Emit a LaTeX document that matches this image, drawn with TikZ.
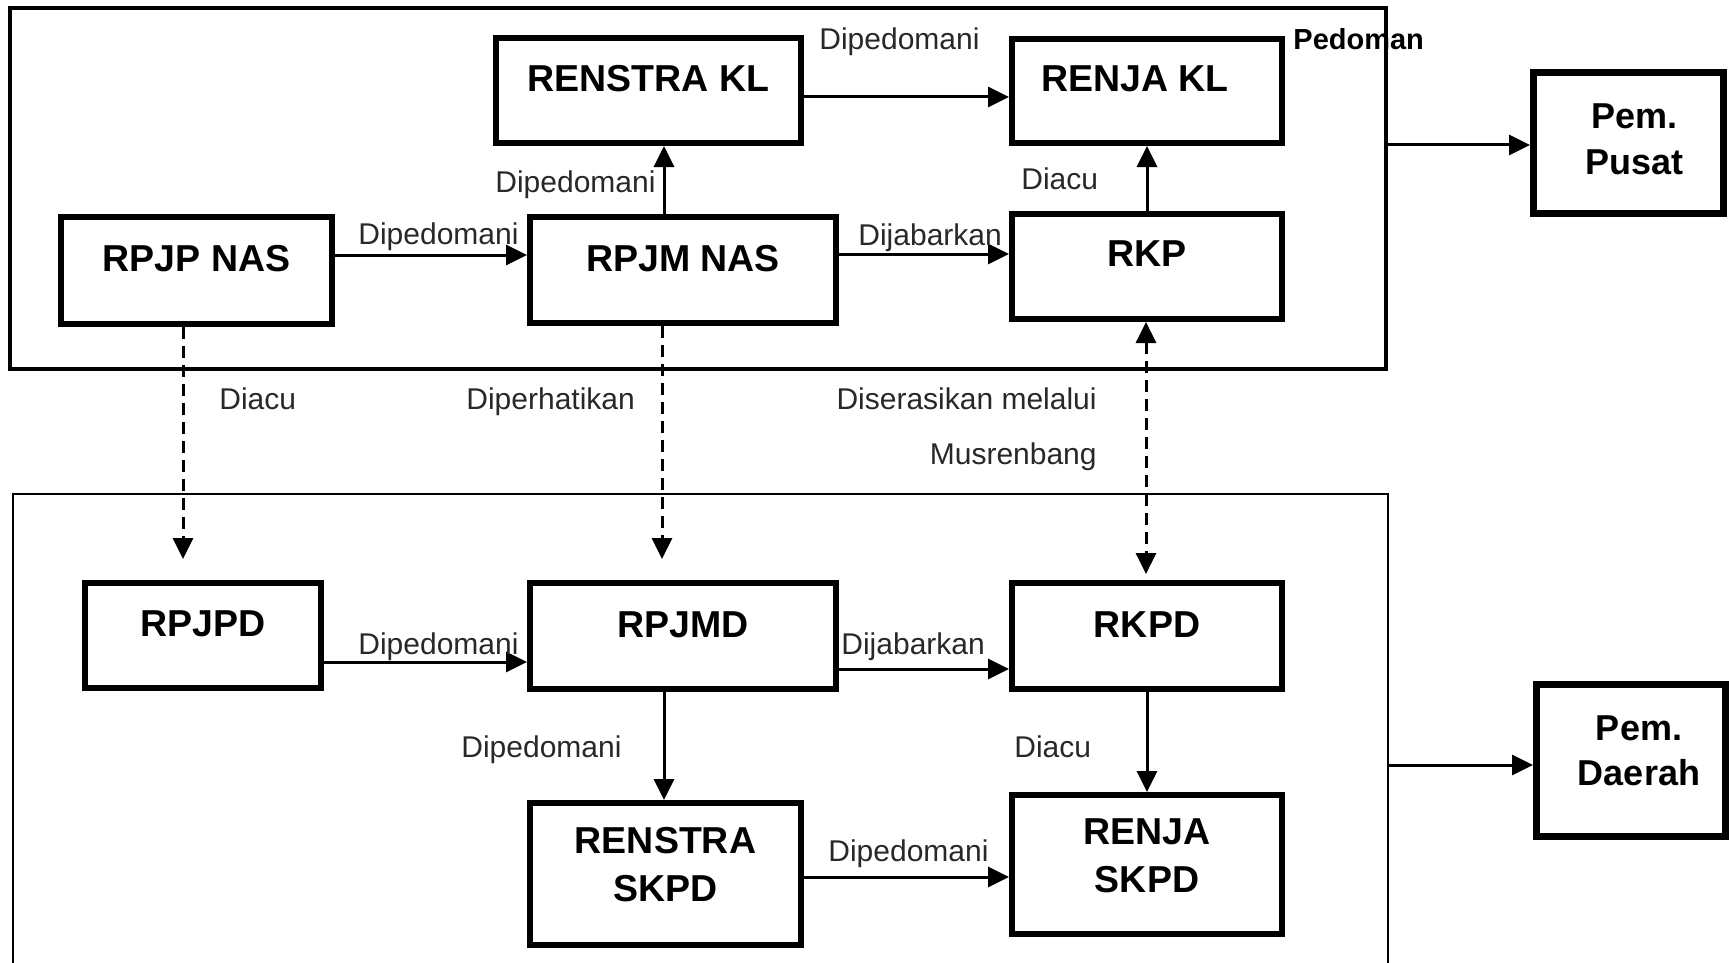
\documentclass[tikz,border=0pt]{standalone}
\usepackage{fontspec}
\setmainfont{Liberation Sans}
\usetikzlibrary{arrows.meta}
\definecolor{lblgray}{RGB}{40,40,40}
\newcommand{\boxtxt}[2]{\smash{\raisebox{#1}{\begin{tabular}[b]{@{}c@{}}#2\end{tabular}}}}
\tikzset{
  tri/.tip={Triangle[length=10.5pt,width=10pt]},
  blk/.style={draw, line width=3pt, rectangle, inner sep=0pt, font=\fontsize{18.75}{24}\selectfont\bfseries},
  pembox/.style={draw, line width=3.5pt, rectangle, inner sep=0pt, font=\fontsize{18}{22.5}\selectfont\bfseries},
  lbl/.style={inner sep=0pt, text=lblgray, font=\fontsize{15}{18}\selectfont},
  arr/.style={line width=1.5pt, -tri},
  darr/.style={arr, dash pattern=on 6pt off 3.5pt},
  frame/.style={draw, rectangle, inner sep=0pt},
}
\begin{document}
\begin{tikzpicture}[x=0.5pt,y=-0.5pt]
\useasboundingbox (0,0) rectangle (1729,963);
\clip (0,0) rectangle (1729,963);
% frames
\node[frame, line width=1.75pt, minimum width=688pt, minimum height=180.5pt] (topbox) at (698,188.5) {};
\node[frame, line width=1.25pt, minimum width=687.5pt, minimum height=303pt] (lowbox) at (700.5,797) {};
% upper blocks
\node[blk, minimum width=135.5pt, minimum height=53.5pt] (RPJPNAS) at (196.5,270.5) {\boxtxt{-0.5pt}{RPJP NAS}};
\node[blk, minimum width=153pt, minimum height=53pt] (RPJMNAS) at (683,270) {\boxtxt{-0.5pt}{RPJM NAS}};
\node[blk, minimum width=152.5pt, minimum height=52.5pt] (RENSTRAKL) at (648.5,90.5) {\boxtxt{-0.5pt}{RENSTRA KL}};
\node[blk, minimum width=135pt, minimum height=52pt] (RENJAKL) at (1147,91) {\boxtxt{-0.5pt}{RENJA KL}\hspace*{12pt}};
\node[blk, minimum width=135pt, minimum height=52.5pt] (RKP) at (1147,266.5) {\boxtxt{0pt}{RKP}};
% lower blocks
\node[blk, minimum width=118pt, minimum height=52.5pt] (RPJPD) at (203,635.5) {\boxtxt{-0.5pt}{RPJPD}};
\node[blk, minimum width=153pt, minimum height=53pt] (RPJMD) at (683,636) {\boxtxt{-0.5pt}{RPJMD}};
\node[blk, minimum width=135pt, minimum height=53pt] (RKPD) at (1147,636) {\boxtxt{-0.5pt}{RKPD}};
\node[blk, minimum width=135.5pt, minimum height=71pt] (RENSTRASKPD) at (665.5,874) {\boxtxt{-13.75pt}{RENSTRA\\SKPD}};
\node[blk, minimum width=135pt, minimum height=69.5pt] (RENJASKPD) at (1147,864.5) {\boxtxt{-14pt}{RENJA\\SKPD}};
% government boxes
\node[pembox, minimum width=95pt, minimum height=70.5pt] (PemPusat) at (1628.5,143) {\hspace*{6pt}\boxtxt{-15.5pt}{Pem.\\Pusat}};
\node[pembox, minimum width=94.5pt, minimum height=76pt] (PemDaerah) at (1631,760.5) {\hspace*{8pt}\boxtxt{-12.25pt}{Pem.\\Daerah}};
% connectors upper
\draw[arr] ([yshift=7.75pt]RPJPNAS.east) -- ([yshift=7.75pt]RPJPNAS.east -| RPJMNAS.west);
\draw[arr] ([yshift=8pt]RPJMNAS.east) -- ([yshift=8pt]RPJMNAS.east -| RKP.west);
\draw[arr] ([yshift=-3.25pt]RENSTRAKL.east) -- ([yshift=-3.25pt]RENSTRAKL.east -| RENJAKL.west);
\draw[arr] ([xshift=-9.5pt]RPJMNAS.north) -- ([xshift=-9.5pt]RPJMNAS.north |- RENSTRAKL.south);
\draw[arr] (RKP.north) -- (RENJAKL.south);
% dashed vertical links
\coordinate (tA) at (183,559);
\coordinate (tB) at (662,559);
\coordinate (tC) at (1146,574);
\draw[darr] (RPJPNAS.south -| tA) -- (tA);
\draw[darr] (RPJMNAS.south -| tB) -- (tB);
\draw[darr, tri-tri] (RKP.south -| tC) -- (tC);
% connectors lower
\draw[arr] ([yshift=-13.25pt]RPJPD.east) -- ([yshift=-13.25pt]RPJPD.east -| RPJMD.west);
\draw[arr] ([yshift=-16.5pt]RPJMD.east) -- ([yshift=-16.5pt]RPJMD.east -| RKPD.west);
\draw[arr] ([xshift=-9.5pt]RPJMD.south) -- ([xshift=-9.5pt]RPJMD.south |- RENSTRASKPD.north);
\draw[arr] (RKPD.south) -- (RENJASKPD.north);
\draw[arr] ([yshift=-1.5pt]RENSTRASKPD.east) -- ([yshift=-1.5pt]RENSTRASKPD.east -| RENJASKPD.west);
% to government boxes
\draw[arr] ([yshift=-1pt]PemPusat.west -| topbox.east) -- ([yshift=-1pt]PemPusat.west);
\draw[arr] ([yshift=-2.25pt]PemDaerah.west -| lowbox.east) -- ([yshift=-2.25pt]PemDaerah.west);
% labels
\node[lbl, anchor=base west] (l1) at (819,50) {Dipedomani};
\node[lbl, anchor=base west, text=black, font=\fontsize{14.5}{17}\selectfont\bfseries] (l2) at (1293,50) {Pedoman};
\node[lbl, anchor=base west] (l3) at (495,192) {Dipedomani};
\node[lbl, anchor=base west] (l4) at (1021,190) {Diacu};
\node[lbl, anchor=base west] (l5) at (358,244) {Dipedomani};
\node[lbl, anchor=base west] (l6) at (858,245) {Dijabarkan};
\node[lbl, anchor=base west] (l7) at (219,409) {Diacu};
\node[lbl, anchor=base west] (l8) at (466,409) {Diperhatikan};
\node[lbl, anchor=base east] (l9) at (1097,409) {Diserasikan melalui};
\node[lbl, anchor=base east] (l10) at (1097,464) {Musrenbang};
\node[lbl, anchor=base west] (l11) at (358,654) {Dipedomani};
\node[lbl, anchor=base west] (l12) at (841,654) {Dijabarkan};
\node[lbl, anchor=base west] (l13) at (461,757) {Dipedomani};
\node[lbl, anchor=base west] (l14) at (1014,757) {Diacu};
\node[lbl, anchor=base west] (l15) at (828,861) {Dipedomani};
\end{tikzpicture}
\end{document}
